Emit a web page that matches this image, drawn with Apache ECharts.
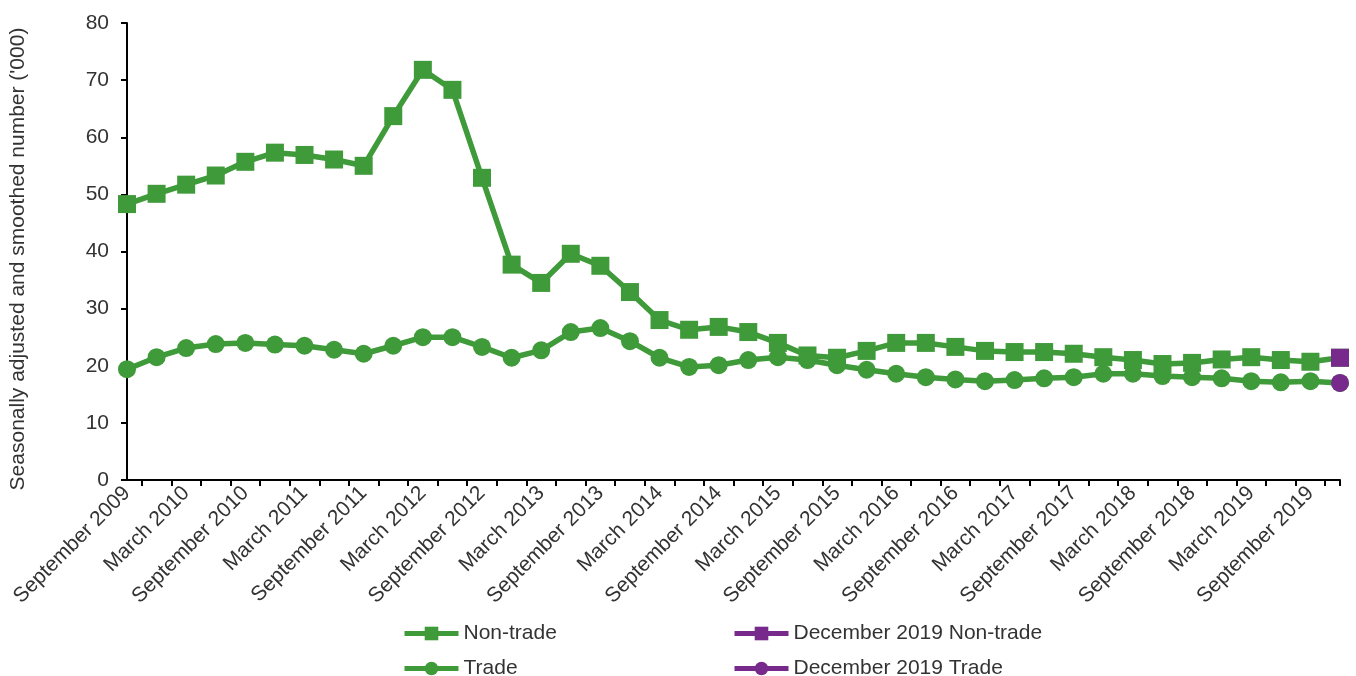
<!DOCTYPE html>
<html>
<head>
<meta charset="utf-8">
<script src="https://cdn.jsdelivr.net/npm/echarts@6/dist/echarts.min.js"></script>
<style>html,body{margin:0;padding:0;background:#fff;}#c{width:1356px;height:676px;}</style>
</head>
<body>
<div id="c"></div>
<script>
const quarters = [
  "September 2009","December 2009","March 2010","June 2010","September 2010","December 2010",
  "March 2011","June 2011","September 2011","December 2011","March 2012","June 2012",
  "September 2012","December 2012","March 2013","June 2013","September 2013","December 2013",
  "March 2014","June 2014","September 2014","December 2014","March 2015","June 2015",
  "September 2015","December 2015","March 2016","June 2016","September 2016","December 2016",
  "March 2017","June 2017","September 2017","December 2017","March 2018","June 2018",
  "September 2018","December 2018","March 2019","June 2019","September 2019","December 2019"
];
// Sep 2009 .. Sep 2019
const nonTrade = [48.3,50.1,51.7,53.3,55.7,57.3,56.9,56.1,55.0,63.7,71.8,68.3,
  52.9,37.7,34.5,39.6,37.5,32.9,28.0,26.3,26.8,25.9,24.0,21.8,
  21.4,22.6,24.0,24.0,23.3,22.6,22.4,22.4,22.1,21.5,21.0,20.3,
  20.5,21.1,21.5,21.0,20.7];
const trade = [19.4,21.5,23.1,23.8,24.0,23.7,23.5,22.8,22.1,23.5,25.0,25.0,
  23.3,21.4,22.7,25.9,26.6,24.3,21.4,19.8,20.1,21.0,21.5,21.0,
  20.1,19.3,18.6,18.0,17.6,17.3,17.5,17.8,18.0,18.6,18.6,18.2,
  18.0,17.8,17.3,17.1,17.3];
const dec2019NonTrade = 21.4;
const dec2019Trade = 17.0;
const yTicks = [0,10,20,30,40,50,60,70,80];
const yTitle = "Seasonally adjusted and smoothed number ('000)";

const GREEN = '#3f9a3a';
const PURPLE = '#772a8c';
const TXT = '#333333';
const FONT = 'Liberation Sans, Arial, sans-serif';
const FS = 21;

const n = quarters.length;
const lastOnly = v => quarters.map((q,i) => i === n-1 ? v : null);
const tickPos = [];
for (let i = 0; i < n-1; i++) tickPos.push(i + 0.5);
tickPos.push(n-1);

function legendAt(name, left, top) {
  return {
    orient: 'horizontal', left: left, top: top, itemWidth: 54, itemHeight: 17,
    textStyle: {color: TXT, fontSize: FS, fontFamily: FONT},
    lineStyle: {width: 5},
    data: [name]
  };
}

const chart = echarts.init(document.getElementById('c'));
chart.setOption({
  animation: false,
  backgroundColor: '#fff',
  grid: {left: 127, right: 16, top: 23, bottom: 196, containLabel: false},
  graphic: [{
    type: 'text', x: 18, y: 259, rotation: Math.PI / 2,
    style: {text: yTitle, fill: TXT, fontSize: FS, fontFamily: FONT, align: 'center', verticalAlign: 'middle'}
  }],
  xAxis: [{
    type: 'category', data: quarters, boundaryGap: false,
    axisLine: {lineStyle: {color: '#000', width: 2}},
    axisTick: {show: false},
    axisLabel: {interval: 1, rotate: 45, margin: 10, color: TXT, fontSize: FS, fontFamily: FONT}
  }, {
    type: 'value', min: 0, max: n-1, position: 'bottom',
    axisLine: {show: false}, splitLine: {show: false},
    axisLabel: {show: false},
    axisTick: {show: true, length: 6, inside: false, customValues: tickPos, lineStyle: {color: '#000', width: 2}}
  }],
  yAxis: {
    type: 'value', min: 0, max: 80, interval: 10,
    axisLine: {show: true, lineStyle: {color: '#000', width: 2}},
    axisTick: {show: true, length: 6, lineStyle: {color: '#000', width: 2}},
    splitLine: {show: false},
    axisLabel: {margin: 18, color: TXT, fontSize: FS, fontFamily: FONT,
      formatter: v => yTicks.includes(v) ? String(v) : ''}
  },
  legend: [
    legendAt('Non-trade', 397, 618),
    legendAt('Trade', 397, 653),
    legendAt('December 2019 Non-trade', 727, 618),
    legendAt('December 2019 Trade', 727, 653)
  ],
  series: [{
    name: 'Non-trade', type: 'line', data: nonTrade.concat([dec2019NonTrade]),
    symbol: 'rect', symbolSize: 18, showAllSymbol: true,
    lineStyle: {color: GREEN, width: 5.5}, itemStyle: {color: GREEN}
  }, {
    name: 'Trade', type: 'line', data: trade.concat([dec2019Trade]),
    symbol: 'circle', symbolSize: 18, showAllSymbol: true,
    lineStyle: {color: GREEN, width: 5.5}, itemStyle: {color: GREEN}
  }, {
    name: 'December 2019 Non-trade', type: 'line', data: lastOnly(dec2019NonTrade),
    symbol: 'rect', symbolSize: 18, z: 5,
    lineStyle: {color: PURPLE, width: 5.5}, itemStyle: {color: PURPLE}
  }, {
    name: 'December 2019 Trade', type: 'line', data: lastOnly(dec2019Trade),
    symbol: 'circle', symbolSize: 18, z: 5,
    lineStyle: {color: PURPLE, width: 5.5}, itemStyle: {color: PURPLE}
  }]
});
</script>
</body>
</html>
